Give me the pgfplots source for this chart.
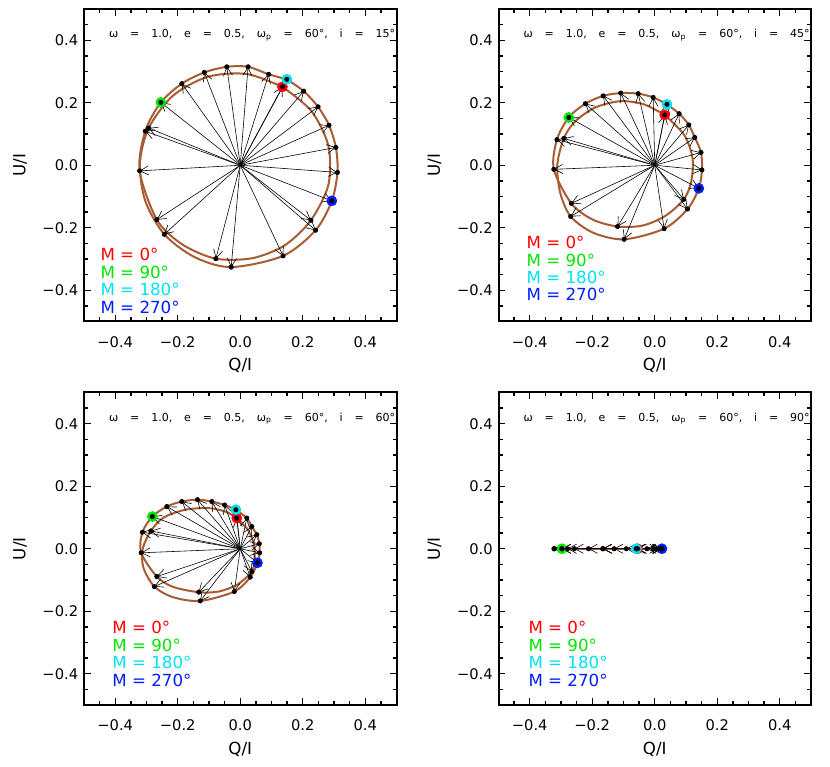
\documentclass[border=0pt]{standalone}
\usepackage{fontspec}
\setmainfont{DejaVu Sans}
\newfontfamily\annfont[WordSpace=3.4]{DejaVu Sans}
\usepackage{pgfplots}
\usepackage{pgfplotstable}
\usepgfplotslibrary{groupplots}
\usetikzlibrary{arrows.meta}
\pgfplotsset{compat=1.18}

\definecolor{orb}{RGB}{168,92,52}
\definecolor{mred}{RGB}{255,0,0}
\definecolor{mgreen}{RGB}{0,230,0}
\definecolor{mcyan}{RGB}{0,225,245}
\definecolor{mblue}{RGB}{0,30,255}

% positions at mean anomaly M = 0,15,...,345 deg
\pgfplotstableread{
M Q U
0 0.135 0.251
15 0.226 -0.176
30 -0.078 -0.299
45 -0.267 -0.174
60 -0.322 -0.018
75 -0.304 0.109
90 -0.254 0.201
105 -0.187 0.261
120 -0.115 0.297
135 -0.043 0.315
150 0.025 0.315
165 0.091 0.291
180 0.149 0.275
195 0.203 0.237
210 0.249 0.187
225 0.284 0.128
240 0.306 0.057
255 0.311 -0.023
270 0.293 -0.114
285 0.241 -0.208
300 0.137 -0.290
315 -0.029 -0.326
330 -0.243 -0.221
345 -0.293 0.119
}\ptsa

\pgfplotstableread{
M Q U
0 0.032 0.161
15 0.093 -0.109
30 -0.119 -0.196
45 -0.267 -0.122
60 -0.323 -0.013
75 -0.313 0.082
90 -0.275 0.153
105 -0.222 0.197
120 -0.165 0.222
135 -0.109 0.231
150 -0.053 0.229
165 -0.005 0.217
180 0.039 0.195
195 0.078 0.165
210 0.109 0.129
225 0.128 0.089
240 0.148 0.041
255 0.151 -0.015
270 0.141 -0.074
285 0.105 -0.140
300 0.030 -0.203
315 -0.098 -0.237
330 -0.269 -0.164
345 -0.291 0.086
}\ptsb

\pgfplotstableread{
M Q U
0 -0.011 0.098
15 0.037 -0.073
30 -0.133 -0.139
45 -0.267 -0.089
60 -0.317 -0.013
75 -0.313 0.053
90 -0.281 0.103
105 -0.235 0.135
120 -0.187 0.151
135 -0.137 0.157
150 -0.091 0.151
165 -0.050 0.140
180 -0.014 0.125
195 0.021 0.098
210 0.037 0.071
225 0.053 0.045
240 0.061 0.016
255 0.062 -0.013
270 0.055 -0.045
285 0.032 -0.091
300 -0.019 -0.137
315 -0.128 -0.167
330 -0.275 -0.121
345 -0.286 0.057
}\ptsc

\pgfplotstableread{
M Q U
0 -0.055 0
15 -0.004 0
30 -0.166 0
45 -0.279 0
60 -0.322 0
75 -0.322 0
90 -0.297 0
105 -0.257 0
120 -0.212 0
135 -0.166 0
150 -0.130 0
165 -0.091 0
180 -0.059 0
195 -0.025 0
210 -0.004 0
225 0.012 0
240 0.020 0
255 0.023 0
270 0.023 0
285 -0.004 0
300 -0.059 0
315 -0.166 0
330 -0.297 0
345 -0.322 0
}\ptsd

\newcommand\arrowsdots[5]{%
  \addplot[quiver={u=\thisrow{Q},v=\thisrow{U}}, -{Straight Barb[length=5pt,width=5.5pt]}, line width=0.35pt, black] table[x expr=0,y expr=0] {#1};
  \addplot[only marks, mark=*, mark size=3pt, mred] coordinates {#2};
  \addplot[only marks, mark=*, mark size=3pt, mgreen] coordinates {#3};
  \addplot[only marks, mark=*, mark size=3pt, mcyan] coordinates {#4};
  \addplot[only marks, mark=*, mark size=3pt, mblue] coordinates {#5};
  \addplot[only marks, mark=*, mark size=1.3pt, black] table[x=Q,y=U] {#1};
}
\newcommand\annot[1]{%
  \node[anchor=east, inner sep=0pt, font=\annfont\fontsize{6.6}{7.5}\selectfont] at (axis cs:0.497,0.416)
    {ω = 1.0, e = 0.5, ω\textsubscript{p} = 60°, i = #1°};
}
\newcommand\mlegend[3]{%
  \node[anchor=west, inner sep=0pt, text=mred] at (axis cs:#1,#2) {M = 0°};
  \node[anchor=west, inner sep=0pt, text=mgreen] at (axis cs:#1,#2-#3) {M = 90°};
  \node[anchor=west, inner sep=0pt, text=mcyan] at (axis cs:#1,#2-2*#3) {M = 180°};
  \node[anchor=west, inner sep=0pt, text=mblue] at (axis cs:#1,#2-3*#3) {M = 270°};
}

\begin{document}
\begin{tikzpicture}
\begin{groupplot}[
  group style={group size=2 by 2, horizontal sep=61.2pt, vertical sep=42.6pt},
  width=187.5pt, height=187.5pt, scale only axis,
  xmin=-0.5, xmax=0.5, ymin=-0.5, ymax=0.5,
  xtick={-0.4,-0.2,0,0.2,0.4}, ytick={-0.4,-0.2,0,0.2,0.4},
  xticklabels={−0.4,−0.2,0.0,0.2,0.4}, yticklabels={−0.4,−0.2,0.0,0.2,0.4},
  minor xtick={-0.45,-0.35,-0.3,-0.25,-0.15,-0.1,-0.05,0.05,0.1,0.15,0.25,0.3,0.35,0.45},
  minor ytick={-0.45,-0.35,-0.3,-0.25,-0.15,-0.1,-0.05,0.05,0.1,0.15,0.25,0.3,0.35,0.45},
  tick align=inside, major tick length=4pt, minor tick length=2.4pt,
  every tick/.style={black, line width=0.8pt},
  axis line style={line width=1.2pt},
  tick label style={font=\fontsize{8.8}{10}\selectfont},
  xticklabel style={yshift=-5.5pt},
  label style={font=\fontsize{8.8}{10}\selectfont},
  xlabel={Q/I}, ylabel={U/I},
  every axis x label/.style={at={([yshift=-26.4pt]axis description cs:0.5,0)}, anchor=center},
  every axis y label/.style={at={([xshift=-38.4pt]axis description cs:0,0.5)}, anchor=center, rotate=90},
  clip=false,
  every node/.append style={font=\fontsize{8.8}{10}\selectfont},
]
% i = 15
\nextgroupplot
\addplot[orb, line width=1.2pt, smooth] coordinates {(0.135,0.251) (0.228,0.173) (0.282,0.062) (0.282,-0.063) (0.226,-0.176) (0.144,-0.255) (0.041,-0.297) (-0.078,-0.299) (-0.186,-0.253) (-0.267,-0.174) (-0.322,-0.018) (-0.304,0.109) (-0.254,0.201) (-0.187,0.261) (-0.115,0.297) (-0.043,0.315) (0.025,0.315) (0.091,0.291) (0.149,0.275)};
\addplot[orb, line width=1.2pt, smooth] coordinates {(0.149,0.275) (0.203,0.237) (0.249,0.187) (0.284,0.128) (0.306,0.057) (0.311,-0.023) (0.293,-0.114) (0.241,-0.208) (0.137,-0.290) (-0.029,-0.326) (-0.146,-0.294) (-0.243,-0.221) (-0.304,-0.114) (-0.321,0.006) (-0.293,0.119) (-0.216,0.222) (-0.104,0.283) (0.021,0.292) (0.135,0.251)};
\arrowsdots{\ptsa}{(0.135,0.251)}{(-0.254,0.201)}{(0.149,0.275)}{(0.293,-0.114)}
\annot{15}
\mlegend{-0.448}{-0.286}{0.056}

% i = 45
\nextgroupplot
\addplot[orb, line width=1.2pt, smooth] coordinates {(0.032,0.161) (0.095,0.096) (0.121,0.021) (0.1165,-0.053) (0.093,-0.109) (0.034,-0.162) (-0.039,-0.193) (-0.119,-0.196) (-0.1995,-0.1735) (-0.267,-0.122) (-0.323,-0.013) (-0.313,0.082) (-0.275,0.153) (-0.222,0.197) (-0.165,0.222) (-0.109,0.231) (-0.053,0.229) (-0.005,0.217) (0.039,0.195)};
\addplot[orb, line width=1.2pt, smooth] coordinates {(0.039,0.195) (0.078,0.165) (0.109,0.129) (0.128,0.089) (0.148,0.041) (0.151,-0.015) (0.141,-0.074) (0.105,-0.140) (0.030,-0.203) (-0.098,-0.237) (-0.197,-0.216) (-0.269,-0.164) (-0.302,-0.09) (-0.312,0.0) (-0.291,0.086) (-0.255,0.14) (-0.19,0.185) (-0.11,0.205) (-0.035,0.195) (0.032,0.161)};
\arrowsdots{\ptsb}{(0.032,0.161)}{(-0.275,0.153)}{(0.039,0.195)}{(0.141,-0.074)}
\annot{45}
\mlegend{-0.411}{-0.248}{0.055}

% i = 60
\nextgroupplot
\addplot[orb, line width=1.2pt, smooth] coordinates {(-0.011,0.098) (0.025,0.06) (0.045,0.01) (0.045,-0.035) (0.037,-0.073) (-0.01,-0.115) (-0.07,-0.137) (-0.133,-0.139) (-0.215,-0.122) (-0.267,-0.089) (-0.317,-0.013) (-0.313,0.053) (-0.281,0.103) (-0.235,0.135) (-0.187,0.151) (-0.137,0.157) (-0.091,0.151) (-0.05,0.14) (-0.014,0.125)};
\addplot[orb, line width=1.2pt, smooth] coordinates {(-0.014,0.125) (0.021,0.098) (0.037,0.071) (0.053,0.045) (0.061,0.016) (0.062,-0.013) (0.055,-0.045) (0.032,-0.091) (-0.019,-0.137) (-0.128,-0.167) (-0.215,-0.155) (-0.275,-0.121) (-0.31,-0.06) (-0.312,0.0) (-0.286,0.057) (-0.245,0.1) (-0.175,0.125) (-0.1,0.13) (-0.045,0.118) (-0.011,0.098)};
\arrowsdots{\ptsc}{(-0.011,0.098)}{(-0.281,0.103)}{(-0.014,0.125)}{(0.055,-0.045)}
\annot{60}
\mlegend{-0.41}{-0.253}{0.056}

% i = 90
\nextgroupplot
\addplot[orb, line width=1.2pt] coordinates {(-0.322,0) (0.023,0)};
\arrowsdots{\ptsd}{(-0.055,0)}{(-0.297,0)}{(-0.059,0)}{(0.023,0)}
\annot{90}
\mlegend{-0.405}{-0.253}{0.056}
\end{groupplot}
\pgfresetboundingbox
\path ([shift={(-50.4pt,5.4pt)}]group c1r1.north west) rectangle ([shift={(11.4pt,-37.2pt)}]group c2r2.south east);
\end{tikzpicture}
\end{document}
